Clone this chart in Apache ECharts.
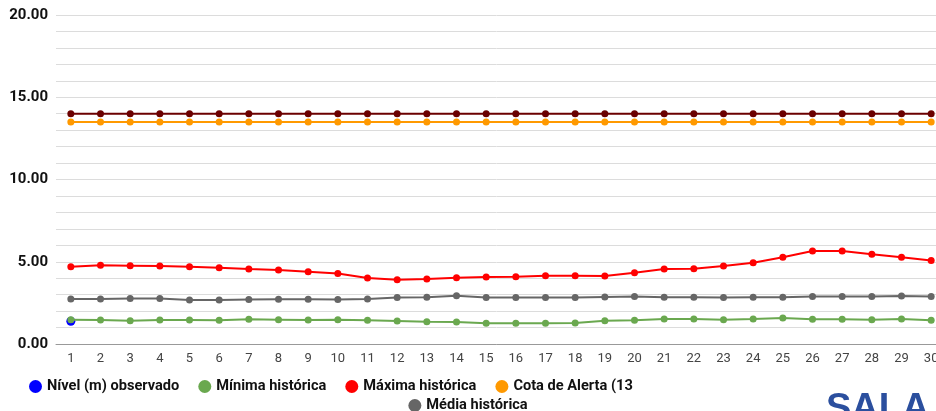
<!DOCTYPE html>
<html>
<head>
<meta charset="utf-8">
<script src="https://cdn.jsdelivr.net/npm/echarts@6/dist/echarts.min.js"></script>
<style>html,body{margin:0;padding:0;background:#fff;overflow:hidden;}#c{width:936px;height:411px;}</style>
</head>
<body>
<div id="c"></div>
<script>
const days = ['1','2','3','4','5','6','7','8','9','10','11','12','13','14','15','16','17','18','19','20','21','22','23','24','25','26','27','28','29','30'];
const observado = [1.38, null, null, null, null, null, null, null, null, null, null, null, null, null, null, null, null, null, null, null, null, null, null, null, null, null, null, null, null, null];
const minima = [1.48,1.46,1.42,1.46,1.46,1.44,1.50,1.48,1.46,1.48,1.44,1.40,1.36,1.34,1.26,1.26,1.26,1.28,1.42,1.44,1.52,1.52,1.48,1.52,1.58,1.50,1.50,1.48,1.52,1.44];
const maxima = [4.70,4.78,4.76,4.74,4.70,4.64,4.56,4.50,4.39,4.28,4.01,3.91,3.95,4.03,4.07,4.09,4.15,4.15,4.13,4.33,4.56,4.58,4.74,4.94,5.27,5.65,5.65,5.45,5.27,5.07];
const alerta = [13.5,13.5,13.5,13.5,13.5,13.5,13.5,13.5,13.5,13.5,13.5,13.5,13.5,13.5,13.5,13.5,13.5,13.5,13.5,13.5,13.5,13.5,13.5,13.5,13.5,13.5,13.5,13.5,13.5,13.5];
const inundacao = [14,14,14,14,14,14,14,14,14,14,14,14,14,14,14,14,14,14,14,14,14,14,14,14,14,14,14,14,14,14];
const media = [2.73,2.73,2.76,2.76,2.68,2.68,2.70,2.72,2.72,2.70,2.73,2.82,2.84,2.94,2.82,2.82,2.82,2.82,2.86,2.88,2.84,2.84,2.82,2.84,2.84,2.88,2.88,2.88,2.92,2.88];

const names = {
  obs: 'Nível (m) observado',
  min: 'Mínima histórica',
  max: 'Máxima histórica',
  alerta: 'Cota de Alerta (13',
  inund: 'Cota de Inundação (14',
  media: 'Média histórica'
};

const chart = echarts.init(document.getElementById('c'));
function line(name, data, color, z, size) {
  return {
    name, type: 'line', data, z,
    symbol: 'circle', symbolSize: size || 7, showSymbol: true,
    lineStyle: {color, width: 2}, itemStyle: {color},
    emphasis: {disabled: true}, animation: false
  };
}
const legendText = {fontFamily: 'Roboto', fontWeight: 'bold', fontSize: 14.6, color: '#111'};
chart.setOption({
  animation: false,
  grid: {left: 56, width: 890, top: 15, bottom: 67, outerBoundsMode: 'none', containLabel: false},
  legend: [
    {data: [names.obs, names.min, names.max, names.alerta], left: 24, top: 374, icon: 'circle', itemWidth: 13, itemHeight: 13, itemGap: 19, textStyle: legendText, selectedMode: false},
    {data: [names.media], left: 'center', top: 393, icon: 'circle', itemWidth: 13, itemHeight: 13, textStyle: legendText, selectedMode: false}
  ],
  xAxis: {
    type: 'category', data: days, boundaryGap: true,
    axisLine: {lineStyle: {color: '#999', width: 1}},
    axisTick: {show: false},
    axisLabel: {color: '#444', fontFamily: 'Roboto', fontSize: 13, margin: 8, interval: 0}
  },
  yAxis: {
    type: 'value', min: 0, max: 20, interval: 1,
    axisLine: {show: false}, axisTick: {show: false},
    axisLabel: {
      formatter: v => (v % 5 === 0 ? v.toFixed(2) : ''),
      color: '#111', fontFamily: 'Roboto', fontWeight: 'bold', fontSize: 15, margin: 8
    },
    splitLine: {lineStyle: {color: '#dcdcdc', width: 1}}
  },
  graphic: [{
    type: 'text', left: 826, top: 391,
    style: {text: 'SALA DE SITUAÇÃO', fontFamily: 'Liberation Sans', fontWeight: 'bold', fontSize: 38, fill: '#2b4f9e'}
  }],
  series: [
    line(names.inund, inundacao, '#6b0000', 2),
    line(names.alerta, alerta, '#ff9900', 2),
    line(names.max, maxima, '#ff0000', 2),
    line(names.media, media, '#666666', 2),
    line(names.obs, observado, '#0000ff', 2, 9),
    line(names.min, minima, '#6aa84f', 3)
  ]
});
</script>
</body>
</html>
